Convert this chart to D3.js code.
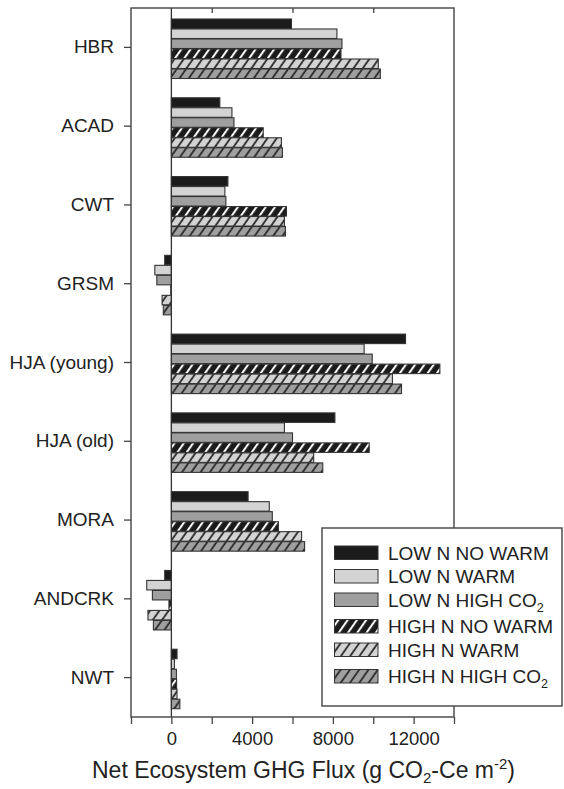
<!DOCTYPE html>
<html>
<head>
<meta charset="utf-8">
<script src="https://cdn.jsdelivr.net/npm/d3@7"></script>
<style>
  body { margin: 0; background: #fff; }
  svg { display: block; font-family: "Liberation Sans", Arial, sans-serif; }
</style>
</head>
<body>
<svg id="chart" width="564" height="789"></svg>
<script>
// ---------------- DATA ----------------
const sites = ["HBR", "ACAD", "CWT", "GRSM", "HJA (young)", "HJA (old)", "MORA", "ANDCRK", "NWT"];
const seriesKeys = ["lowNoWarm", "lowWarm", "lowCO2", "highNoWarm", "highWarm", "highCO2"];
const seriesNames = ["LOW N NO WARM", "LOW N WARM", "LOW N HIGH CO", "HIGH N NO WARM", "HIGH N WARM", "HIGH N HIGH CO"];
const seriesSub = ["", "", "2", "", "", "2"];
const lowNoWarm  = [5950, 2400, 2800, -330, 11600, 8100, 3800, -330, 280];
const lowWarm    = [8200, 3000, 2650, -820, 9550, 5600, 4850, -1220, 150];
const lowCO2     = [8450, 3100, 2700, -720, 9950, 6000, 5000, -940, 250];
const highNoWarm = [8400, 4550, 5700, -30, 13300, 9800, 5300, -120, 260];
const highWarm   = [10250, 5450, 5600, -460, 10950, 7050, 6450, -1160, 280];
const highCO2    = [10350, 5500, 5650, -400, 11400, 7500, 6600, -890, 420];
const xTicks = [-2000, 0, 2000, 4000, 6000, 8000, 10000, 12000, 14000];
const xTickLabels = ["", "0", "", "4000", "", "8000", "", "12000", ""];
const topTicks = [2000, 6000, 10000];

const seriesValues = [lowNoWarm, lowWarm, lowCO2, highNoWarm, highWarm, highCO2];

// ---------------- LAYOUT ----------------
const svg = d3.select("#chart");
const L = 131, R = 454, T = 8, B = 717;

const x = d3.scaleLinear().domain([-2000, 14000]).range([L, R]);
const y0 = d3.scaleBand().domain(sites).range([T, B]);
const y1 = d3.scaleBand().domain(seriesKeys).range([11, 71]);

const fills = {
  lowNoWarm: "#1b1b1b", lowWarm: "#d3d3d3", lowCO2: "#9f9f9f",
  highNoWarm: "url(#hatchBlack)", highWarm: "url(#hatchLight)", highCO2: "url(#hatchGray)"
};

// patterns
const defs = svg.append("defs");
function hatch(id, base, line, w) {
  const p = defs.append("pattern")
    .attr("id", id).attr("patternUnits", "userSpaceOnUse")
    .attr("width", 7.6).attr("height", 10)
    .attr("patternTransform", "rotate(35)");
  p.append("rect").attr("width", 7.6).attr("height", 10).attr("fill", base);
  p.append("line").attr("x1", 2).attr("x2", 2).attr("y1", -1).attr("y2", 11)
    .attr("stroke", line).attr("stroke-width", w);
}
hatch("hatchBlack", "#1b1b1b", "#ffffff", 2.0);
hatch("hatchLight", "#d3d3d3", "#2a2a2a", 1.8);
hatch("hatchGray", "#9f9f9f", "#2a2a2a", 1.8);

// bars
const data = [];
sites.forEach((s, i) => {
  seriesKeys.forEach((k, j) => data.push({ site: s, key: k, value: seriesValues[j][i] }));
});

svg.append("g").selectAll("rect").data(data).join("rect")
  .attr("x", d => x(Math.min(0, d.value)))
  .attr("width", d => Math.abs(x(d.value) - x(0)))
  .attr("y", d => y0(d.site) + y1(d.key))
  .attr("height", y1.bandwidth() - 0.5)
  .attr("fill", d => fills[d.key])
  .attr("stroke", "#333")
  .attr("stroke-width", 1.1);

// zero line
svg.append("line")
  .attr("x1", x(0)).attr("x2", x(0)).attr("y1", T).attr("y2", B)
  .attr("stroke", "#333").attr("stroke-width", 1.3);

// frame
svg.append("rect")
  .attr("x", L).attr("y", T).attr("width", R - L).attr("height", B - T)
  .attr("fill", "none").attr("stroke", "#444").attr("stroke-width", 1.4);

// axes
const xAxis = svg.append("g").attr("transform", `translate(0,${B})`)
  .call(d3.axisBottom(x).tickValues(xTicks).tickSize(7).tickPadding(8)
    .tickFormat((d, i) => xTickLabels[i]));
xAxis.select(".domain").remove();
xAxis.selectAll("line").attr("stroke", "#444").attr("stroke-width", 1.3);
xAxis.selectAll("text").attr("font-size", 18.5).attr("fill", "#222")
  .attr("font-family", "Liberation Sans, Arial, sans-serif");

const topAxis = svg.append("g").attr("transform", `translate(0,${T})`)
  .call(d3.axisTop(x).tickValues(topTicks).tickSize(-5).tickFormat(""));
topAxis.select(".domain").remove();
topAxis.selectAll("line").attr("stroke", "#444").attr("stroke-width", 1.3);

const yAxis = svg.append("g").attr("transform", `translate(${L},0)`)
  .call(d3.axisLeft(y0).tickSize(7).tickPadding(10));
yAxis.select(".domain").remove();
yAxis.selectAll("line").attr("stroke", "#444").attr("stroke-width", 1.3);
yAxis.selectAll("text").attr("font-size", 19).attr("fill", "#222")
  .attr("font-family", "Liberation Sans, Arial, sans-serif");

// x title
const title = svg.append("text").attr("x", 92).attr("y", 778)
  .attr("font-size", 23).attr("fill", "#222");
title.append("tspan").text("Net Ecosystem GHG Flux (g CO");
title.append("tspan").attr("font-size", 15).attr("dy", 5).text("2");
title.append("tspan").attr("dy", -5).text("-Ce m");
title.append("tspan").attr("font-size", 15).attr("dy", -9).text("-2");
title.append("tspan").attr("dy", 9).text(")");

// legend
const lg = svg.append("g");
lg.append("rect").attr("x", 322).attr("y", 528).attr("width", 240).attr("height", 178)
  .attr("fill", "#fff").attr("stroke", "#444").attr("stroke-width", 1.4);
const rowY = [553, 576.5, 600, 626.5, 650, 676.5];
seriesKeys.forEach((k, j) => {
  lg.append("rect").attr("x", 334.5).attr("y", rowY[j] - 7).attr("width", 43.5).attr("height", 13.5)
    .attr("fill", fills[k]).attr("stroke", "#333").attr("stroke-width", 1);
  const t = lg.append("text").attr("x", 388).attr("y", rowY[j] + 6.5)
    .attr("font-size", 19).attr("fill", "#222").text(seriesNames[j]);
  if (seriesSub[j]) t.append("tspan").attr("font-size", 12.5).attr("dy", 5).text(seriesSub[j]);
});
</script>
</body>
</html>
